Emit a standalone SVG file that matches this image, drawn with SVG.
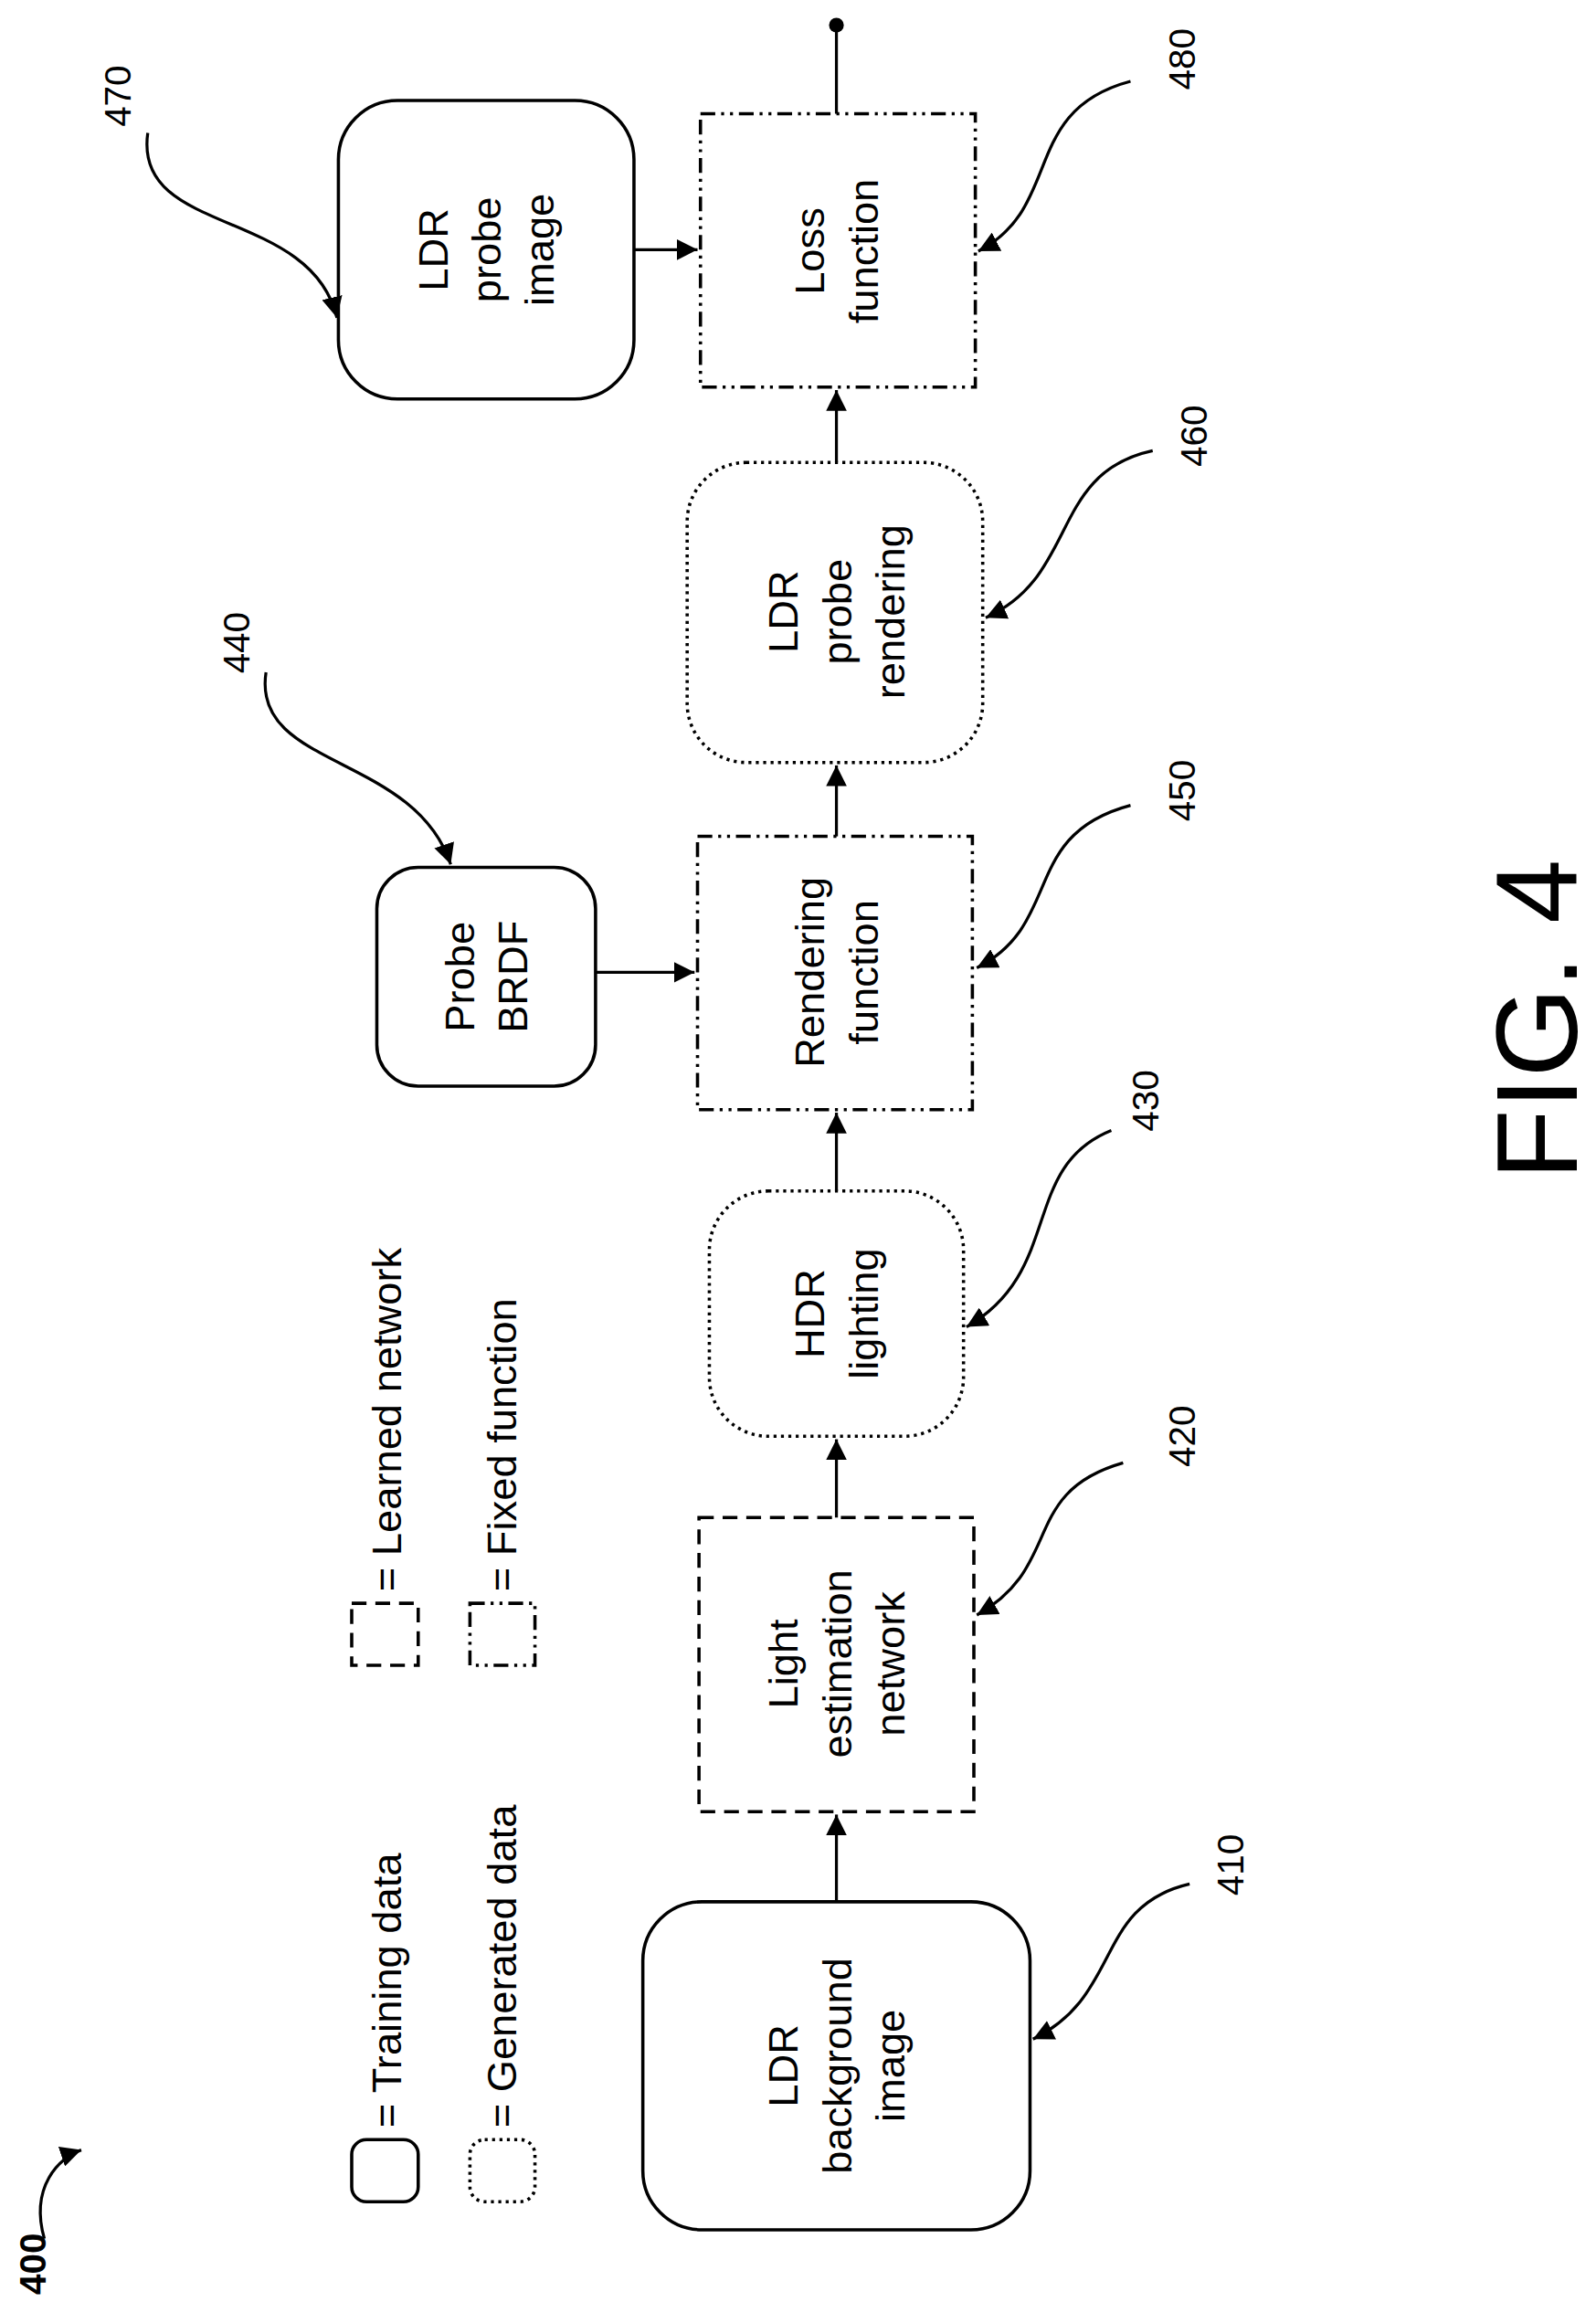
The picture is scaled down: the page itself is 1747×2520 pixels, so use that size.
<svg xmlns="http://www.w3.org/2000/svg" width="1747" height="2520" viewBox="0 0 1747 2520">
<style>
.b{fill:none;stroke:#000;stroke-width:2.2}
.da{stroke-dasharray:10,6}
.do{stroke-dasharray:2,3}
.dd{stroke-dasharray:10,4,2,4,2,4}
text{font-family:"Liberation Sans",Arial,sans-serif;fill:#000}
.t{font-size:28px;text-anchor:middle;dominant-baseline:central}
.l{font-size:25px;text-anchor:middle;dominant-baseline:central}
.c{fill:none;stroke:#000;stroke-width:2}
</style>
<defs>
<marker id="a" viewBox="0 0 10 10" refX="10" refY="5" markerWidth="7" markerHeight="7" orient="auto"><path d="M0,0L10,5L0,10z" fill="#000"/></marker>
</defs>
<rect width="1747" height="2520" fill="#fff"/>
<g transform="scale(1.6176)">
<g id="n410"><rect class="b" x="435" y="1287" width="262" height="222" rx="40"/><text class="t" transform="translate(566,1398) rotate(-90)"><tspan x="0" y="-36">LDR</tspan><tspan x="0" y="0">background</tspan><tspan x="0" y="36">image</tspan></text></g>
<g id="n420"><rect class="b da" x="473" y="1027" width="186" height="199"/><text class="t" transform="translate(566,1126) rotate(-90)"><tspan x="0" y="-36">Light</tspan><tspan x="0" y="0">estimation</tspan><tspan x="0" y="36">network</tspan></text></g>
<g id="n430"><rect class="b do" x="480" y="806" width="172" height="166" rx="40"/><text class="t" transform="translate(566,889) rotate(-90)"><tspan x="0" y="-18">HDR</tspan><tspan x="0" y="18">lighting</tspan></text></g>
<g id="n440"><rect class="b" x="255" y="587" width="148" height="148" rx="28"/><text class="t" transform="translate(329,661) rotate(-90)"><tspan x="0" y="-18">Probe</tspan><tspan x="0" y="18">BRDF</tspan></text></g>
<g id="n450"><rect class="b dd" x="472" y="566" width="186" height="185"/><text class="t" transform="translate(566,658) rotate(-90)"><tspan x="0" y="-18">Rendering</tspan><tspan x="0" y="18">function</tspan></text></g>
<g id="n460"><rect class="b do" x="465" y="313" width="200" height="203" rx="40"/><text class="t" transform="translate(566,414) rotate(-90)"><tspan x="0" y="-36">LDR</tspan><tspan x="0" y="0">probe</tspan><tspan x="0" y="36">rendering</tspan></text></g>
<g id="n470"><rect class="b" x="229" y="68" width="200" height="202" rx="40"/><text class="t" transform="translate(329,169) rotate(-90)"><tspan x="0" y="-36">LDR</tspan><tspan x="0" y="0">probe</tspan><tspan x="0" y="36">image</tspan></text></g>
<g id="n480"><rect class="b dd" x="474" y="77" width="186" height="185"/><text class="t" transform="translate(566,170) rotate(-90)"><tspan x="0" y="-18">Loss</tspan><tspan x="0" y="18">function</tspan></text></g>
<g id="legend">
<rect class="b" x="238" y="1448" width="45" height="42" rx="10"/><text class="t" style="text-anchor:start" transform="translate(262,1440) rotate(-90)">= Training data</text>
<rect class="b do" x="318" y="1448" width="44" height="42" rx="10"/><text class="t" style="text-anchor:start" transform="translate(340,1440) rotate(-90)">= Generated data</text>
<rect class="b da" x="238" y="1085" width="45" height="42"/><text class="t" style="text-anchor:start" transform="translate(262,1077) rotate(-90)">= Learned network</text>
<rect class="b dd" x="318" y="1085" width="44" height="42"/><text class="t" style="text-anchor:start" transform="translate(340,1077) rotate(-90)">= Fixed function</text>
</g>
<g id="connectors">
<path class="c" d="M566,1287V1228" marker-end="url(#a)"/>
<path class="c" d="M566,1027V974" marker-end="url(#a)"/>
<path class="c" d="M566,806V753" marker-end="url(#a)"/>
<path class="c" d="M566,566V518" marker-end="url(#a)"/>
<path class="c" d="M566,313V264" marker-end="url(#a)"/>
<path class="c" d="M403,658H470" marker-end="url(#a)"/>
<path class="c" d="M429,169H472" marker-end="url(#a)"/>
<path class="c" d="M566,77V17"/>
<circle cx="566" cy="17" r="5" fill="#000"/>
<path class="c" d="M805,1275C740,1290 760,1350 699,1380" marker-end="url(#a)"/>
<path class="c" d="M760,990C690,1010 720,1060 661,1093" marker-end="url(#a)"/>
<path class="c" d="M752,765C690,790 720,860 654,898" marker-end="url(#a)"/>
<path class="c" d="M180,455C170,520 280,510 305,585" marker-end="url(#a)"/>
<path class="c" d="M765,545C690,565 720,625 661,655" marker-end="url(#a)"/>
<path class="c" d="M780,305C710,320 730,390 667,418" marker-end="url(#a)"/>
<path class="c" d="M100,90C90,160 210,140 228,215" marker-end="url(#a)"/>
<path class="c" d="M765,55C690,75 720,140 662,170" marker-end="url(#a)"/>
<path class="c" d="M30,1515C20,1480 40,1460 55,1455" marker-end="url(#a)"/>
</g>
<g id="labels">
<text class="l" transform="translate(833,1262) rotate(-90)">410</text>
<text class="l" transform="translate(800,972) rotate(-90)">420</text>
<text class="l" transform="translate(775,745) rotate(-90)">430</text>
<text class="l" transform="translate(160,435) rotate(-90)">440</text>
<text class="l" transform="translate(800,535) rotate(-90)">450</text>
<text class="l" transform="translate(808,295) rotate(-90)">460</text>
<text class="l" transform="translate(80,65) rotate(-90)">470</text>
<text class="l" transform="translate(800,40) rotate(-90)">480</text>
<text class="l" style="font-weight:bold" transform="translate(22,1532) rotate(-90)">400</text>
<text style="font-size:78px;text-anchor:middle;dominant-baseline:central" transform="translate(1040,690) rotate(-90)">FIG. 4</text>
</g>
</g>
</svg>
